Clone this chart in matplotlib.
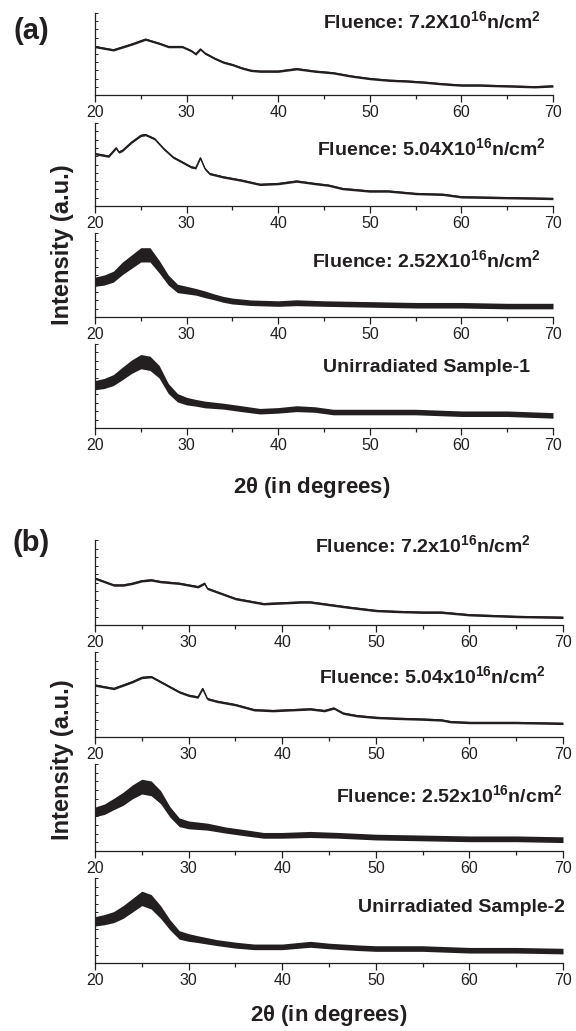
import matplotlib
matplotlib.use("Agg")
import matplotlib.pyplot as plt
from matplotlib.ticker import MultipleLocator, NullFormatter

plt.rcParams['font.family'] = ['Liberation Sans', 'DejaVu Sans']
plt.rcParams['mathtext.default'] = 'regular'

INK = "#231f20"

# Patterns: 2theta (deg) and height as fraction of each axes,
# plus the half-width of the noise band around the trace
a1_x = [20, 22, 24, 25.5, 27, 28, 29.5, 30.5, 31, 31.5, 32, 33, 34, 35, 36, 37, 38, 40, 42, 44, 46, 48, 50, 52, 54, 56, 58, 60, 62, 65, 68, 70]
a1_y = [0.59, 0.55, 0.62, 0.68, 0.63, 0.59, 0.59, 0.54, 0.50, 0.56, 0.51, 0.45, 0.40, 0.37, 0.33, 0.30, 0.29, 0.29, 0.32, 0.29, 0.27, 0.23, 0.20, 0.18, 0.17, 0.155, 0.135, 0.12, 0.12, 0.11, 0.10, 0.11]
a1_n = [0.014] * len(a1_x)

a2_x = [20, 21.5, 22.3, 22.6, 23, 24, 25, 25.5, 26.5, 27.5, 28.5, 29.5, 30.5, 31, 31.5, 32, 32.5, 34, 36, 38, 40, 42, 44, 45.5, 47, 50, 52, 55, 58, 60, 65, 70]
a2_y = [0.63, 0.60, 0.70, 0.65, 0.67, 0.77, 0.85, 0.86, 0.81, 0.69, 0.59, 0.53, 0.47, 0.46, 0.58, 0.45, 0.39, 0.35, 0.31, 0.26, 0.27, 0.30, 0.27, 0.25, 0.21, 0.18, 0.18, 0.15, 0.14, 0.11, 0.10, 0.09]
a2_n = [0.014] * len(a2_x)

a3_x = [20, 21, 22, 23, 24, 25, 26, 27, 28, 29, 30, 31, 32, 33, 34, 35, 37, 40, 42, 45, 50, 55, 60, 65, 70]
a3_y = [0.42, 0.44, 0.48, 0.58, 0.66, 0.74, 0.74, 0.60, 0.44, 0.34, 0.32, 0.30, 0.27, 0.24, 0.21, 0.19, 0.17, 0.16, 0.17, 0.16, 0.15, 0.14, 0.14, 0.13, 0.13]
a3_n = [0.055, 0.06, 0.065, 0.075, 0.08, 0.085, 0.085, 0.075, 0.06, 0.05, 0.045, 0.04, 0.04, 0.035, 0.035, 0.035, 0.033, 0.033, 0.035, 0.033, 0.033, 0.033, 0.033, 0.033, 0.033]

a4_x = [20, 21, 22, 23, 24, 25, 26, 27, 28, 29, 30, 31, 32, 34, 36, 38, 40, 42, 44, 46, 50, 55, 60, 65, 70]
a4_y = [0.51, 0.53, 0.57, 0.65, 0.73, 0.79, 0.77, 0.67, 0.47, 0.36, 0.32, 0.30, 0.28, 0.26, 0.23, 0.20, 0.21, 0.23, 0.22, 0.19, 0.19, 0.19, 0.17, 0.17, 0.15]
a4_n = [0.055, 0.06, 0.065, 0.075, 0.08, 0.085, 0.085, 0.075, 0.06, 0.05, 0.045, 0.04, 0.04, 0.035, 0.035, 0.033, 0.033, 0.035, 0.033, 0.033, 0.033, 0.033, 0.033, 0.033, 0.033]

b1_x = [20, 21, 22, 23, 24, 25, 26, 27, 28, 29, 30, 31, 31.7, 32, 33, 34, 35, 36, 38, 40, 42, 43, 45, 47, 50, 52, 55, 57, 60, 65, 70]
b1_y = [0.55, 0.51, 0.47, 0.47, 0.49, 0.52, 0.53, 0.51, 0.50, 0.49, 0.47, 0.45, 0.49, 0.43, 0.39, 0.35, 0.31, 0.29, 0.25, 0.26, 0.27, 0.27, 0.24, 0.21, 0.17, 0.16, 0.15, 0.15, 0.12, 0.10, 0.09]
b1_n = [0.014] * len(b1_x)

b2_x = [20, 21, 22, 23, 24, 25, 26, 27, 28, 29, 30, 31, 31.5, 32, 33, 35, 37, 39, 41, 43, 44.5, 45.5, 46.5, 48, 50, 52, 55, 57, 58, 60, 65, 70]
b2_y = [0.61, 0.59, 0.57, 0.61, 0.65, 0.70, 0.71, 0.65, 0.59, 0.53, 0.49, 0.47, 0.57, 0.45, 0.42, 0.38, 0.32, 0.31, 0.32, 0.33, 0.31, 0.34, 0.28, 0.25, 0.23, 0.22, 0.21, 0.20, 0.18, 0.17, 0.17, 0.16]
b2_n = [0.014] * len(b2_x)

b3_x = [20, 21, 22, 23, 24, 25, 26, 27, 28, 29, 30, 32, 34, 36, 38, 40, 43, 46, 50, 55, 60, 65, 70]
b3_y = [0.45, 0.48, 0.54, 0.60, 0.68, 0.74, 0.72, 0.62, 0.45, 0.33, 0.30, 0.28, 0.24, 0.21, 0.18, 0.18, 0.19, 0.18, 0.16, 0.15, 0.14, 0.14, 0.13]
b3_n = [0.055, 0.06, 0.065, 0.075, 0.08, 0.085, 0.085, 0.075, 0.06, 0.05, 0.045, 0.04, 0.035, 0.035, 0.033, 0.033, 0.035, 0.033, 0.033, 0.033, 0.033, 0.033, 0.033]

b4_x = [20, 21, 22, 23, 24, 25, 26, 27, 28, 29, 30, 31, 33, 35, 37, 40, 43, 45, 48, 50, 55, 60, 65, 70]
b4_y = [0.49, 0.51, 0.54, 0.60, 0.68, 0.76, 0.72, 0.60, 0.45, 0.33, 0.30, 0.28, 0.24, 0.21, 0.19, 0.19, 0.22, 0.20, 0.18, 0.17, 0.17, 0.15, 0.15, 0.14]
b4_n = [0.055, 0.06, 0.065, 0.075, 0.08, 0.085, 0.085, 0.075, 0.06, 0.05, 0.045, 0.04, 0.035, 0.035, 0.033, 0.033, 0.035, 0.033, 0.033, 0.033, 0.033, 0.033, 0.033, 0.033]

labels_a = ["Fluence: 7.2X10$^{16}$n/cm$^{2}$", "Fluence: 5.04X10$^{16}$n/cm$^{2}$",
            "Fluence: 2.52X10$^{16}$n/cm$^{2}$", "Unirradiated Sample-1"]
labels_b = ["Fluence: 7.2x10$^{16}$n/cm$^{2}$", "Fluence: 5.04x10$^{16}$n/cm$^{2}$",
            "Fluence: 2.52x10$^{16}$n/cm$^{2}$", "Unirradiated Sample-2"]
xticks = [20, 30, 40, 50, 60, 70]

W, H = 576, 1031
fig = plt.figure(figsize=(W / 100, H / 100), dpi=100)


def px(x, y):
    # pixel position (from top-left) -> figure fraction
    return x / W, 1 - y / H


def make_axes(left, right, top, bottom):
    l, b = px(left, bottom)
    ax = fig.add_axes([l, b, (right - left) / W, (bottom - top) / H])
    ax.set_xlim(20, 70)
    ax.set_ylim(0, 1)
    for s in ["top", "right"]:
        ax.spines[s].set_visible(False)
    for s in ["left", "bottom"]:
        ax.spines[s].set_linewidth(0.9)
        ax.spines[s].set_color(INK)
    ax.set_xticks(xticks)
    ax.xaxis.set_minor_locator(MultipleLocator(5))
    ax.tick_params(axis="x", which="major", direction="out", length=5, width=0.9,
                   labelsize=11.5, colors=INK, pad=2)
    ax.tick_params(axis="x", which="minor", direction="out", length=3, width=0.9, colors=INK)
    ax.yaxis.set_major_locator(MultipleLocator(0.1))
    ax.yaxis.set_major_formatter(NullFormatter())
    ax.tick_params(axis="y", which="major", direction="in", length=2, width=0.7, colors=INK)
    return ax


def draw(ax, x, y, n):
    lo = [v - d for v, d in zip(y, n)]
    hi = [v + d for v, d in zip(y, n)]
    ax.fill_between(x, lo, hi, color=INK, linewidth=0)
    ax.plot(x, y, color=INK, lw=1.0)


series_a = [(a1_x, a1_y, a1_n), (a2_x, a2_y, a2_n), (a3_x, a3_y, a3_n), (a4_x, a4_y, a4_n)]
series_b = [(b1_x, b1_y, b1_n), (b2_x, b2_y, b2_n), (b3_x, b3_y, b3_n), (b4_x, b4_y, b4_n)]

# panel (a)
tops_a = [13, 123, 233, 344]
bots_a = [95, 206, 317, 428]
text_a = [(541, 28), (546, 155), (541, 267), (530, 372)]
for i in range(4):
    ax = make_axes(95, 553, tops_a[i], bots_a[i])
    draw(ax, *series_a[i])
    fig.text(*px(*text_a[i]), labels_a[i], ha="right", va="baseline",
             fontsize=14, fontweight="bold", color=INK)

# panel (b)
tops_b = [540, 652, 764, 878]
bots_b = [625, 737, 851, 963]
text_b = [(531, 552), (546, 683), (563, 802), (565, 912)]
for i in range(4):
    ax = make_axes(95, 563, tops_b[i], bots_b[i])
    draw(ax, *series_b[i])
    fig.text(*px(*text_b[i]), labels_b[i], ha="right", va="baseline",
             fontsize=14, fontweight="bold", color=INK)

fig.text(*px(31, 31), "(a)", ha="center", va="center", fontsize=21, fontweight="bold", color=INK)
fig.text(*px(31, 543), "(b)", ha="center", va="center", fontsize=21, fontweight="bold", color=INK)
fig.text(*px(62, 245), "Intensity (a.u.)", rotation=90, ha="center", va="center",
         fontsize=17, fontweight="bold", color=INK)
fig.text(*px(62, 760), "Intensity (a.u.)", rotation=90, ha="center", va="center",
         fontsize=17, fontweight="bold", color=INK)
fig.text(*px(312, 487), r"2$\theta$ (in degrees)", ha="center", va="center",
         fontsize=16, fontweight="bold", color=INK)
fig.text(*px(329, 1015), r"2$\theta$ (in degrees)", ha="center", va="center",
         fontsize=16, fontweight="bold", color=INK)

fig.savefig("out.png", dpi=100)
